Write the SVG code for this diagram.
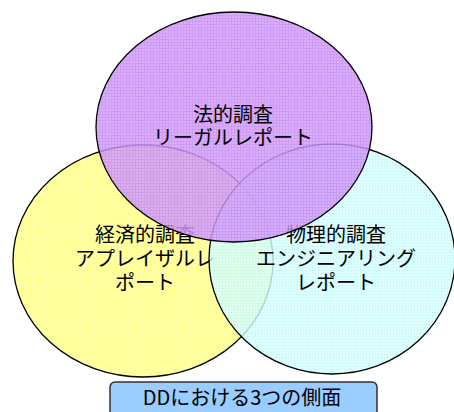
<svg xmlns="http://www.w3.org/2000/svg" width="454" height="412" viewBox="0 0 454 412">
<defs>
<pattern id="pY" width="3" height="3" patternUnits="userSpaceOnUse">
<rect width="3" height="3" fill="#FFFFAE"/>
<path d="M0 0.5H3M0.5 0V3" stroke="#FFFF90" stroke-width="1"/>
</pattern>
<pattern id="pC" width="3" height="3" patternUnits="userSpaceOnUse">
<rect width="3" height="3" fill="#DEFFFF"/>
<path d="M0 0.5H3M0.5 0V3" stroke="#C4FAFA" stroke-width="1"/>
</pattern>
<pattern id="pP" width="3" height="3" patternUnits="userSpaceOnUse">
<rect width="3" height="3" fill="#D8A0FC"/>
<path d="M0 0.5H3M0.5 0V3" stroke="#C48CF5" stroke-width="1"/>
</pattern>
</defs>
<style>
.t{font-family:"Noto Sans CJK JP","Noto Sans CJK SC",sans-serif;font-size:20px;fill:#000;text-anchor:middle}
.e{stroke:#000;stroke-width:1.3}
</style>
<g id="node-economic">
<ellipse class="e" cx="143" cy="261" rx="130" ry="116" fill="url(#pY)"/>
<text class="t" x="145" y="242">経済的調査<tspan x="145" dy="24">アプレイザルレ</tspan><tspan x="145" dy="24">ポート</tspan></text>
</g>
<g id="node-physical">
<ellipse class="e" cx="332" cy="259" rx="123" ry="115" fill="url(#pC)" fill-opacity="0.82"/>
<text class="t" x="336" y="242">物理的調査<tspan x="336" dy="24">エンジニアリング</tspan><tspan x="336" dy="24">レポート</tspan></text>
</g>
<g id="node-legal">
<ellipse class="e" cx="234" cy="127" rx="138" ry="115" fill="url(#pP)" fill-opacity="0.85"/>
<text class="t" x="233" y="122">法的調査<tspan x="233" dy="23">リーガルレポート</tspan></text>
</g>
<g id="node-caption">
<rect x="110" y="382" width="267" height="40" rx="5" fill="#99CCFF" stroke="#333" stroke-width="1.5"/>
<text class="t" x="242" y="405">DDにおける3つの側面</text>
</g>
<g id="connectors"/>
</svg>
